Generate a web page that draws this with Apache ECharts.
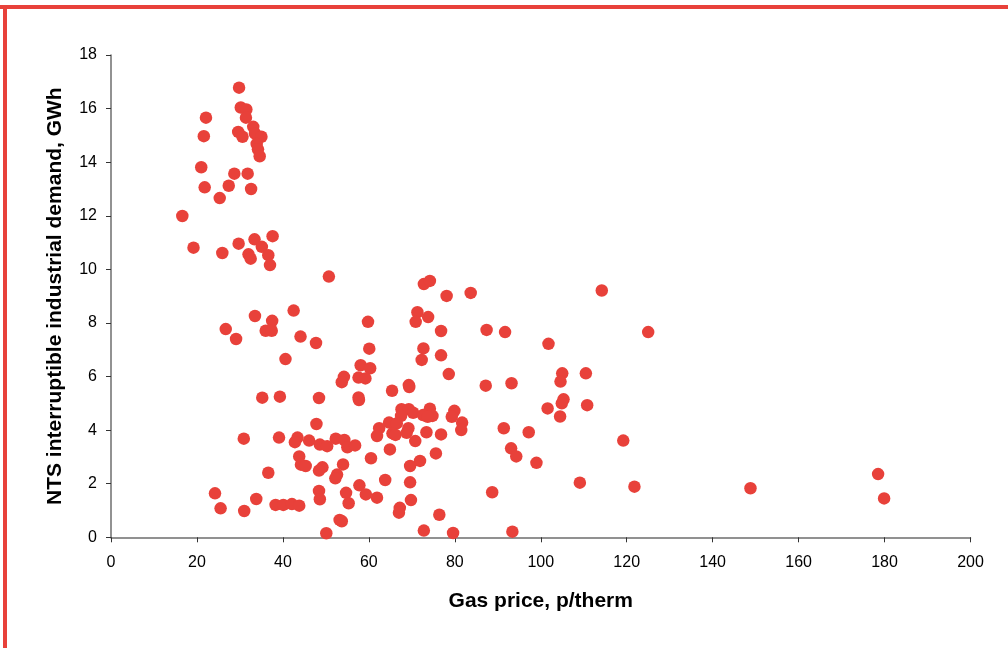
<!DOCTYPE html>
<html>
<head>
<meta charset="utf-8">
<script src="https://cdn.jsdelivr.net/npm/echarts@6/dist/echarts.min.js"></script>
<style>
  html, body { margin: 0; padding: 0; background: #fff; }
  #chart { width: 1008px; height: 648px; }
</style>
</head>
<body>
<div id="chart"></div>
<script>
// Gas price (p/therm) for each observation
const gasPrice = [
  29.8, 30.2, 31.5, 22.1, 31.4, 33.1, 29.6, 30.6, 33.5, 35.0,
  21.6, 33.9, 34.2, 34.6, 21.0, 28.7, 31.8, 21.8, 27.4, 32.6,
  25.3, 16.6, 37.6, 33.4, 29.7, 35.1, 19.2, 25.9, 32.0, 32.5,
  36.6, 37.0, 50.7, 42.5, 33.5, 37.5, 36.0, 37.4, 26.7, 29.1,
  44.1, 47.7, 40.6, 54.2, 53.7, 35.2, 39.3, 48.4, 47.8, 30.9,
  39.1, 43.4, 42.8, 46.1, 48.6, 50.3, 52.3, 54.3, 55.0, 43.8,
  44.2, 45.3, 49.2, 48.4, 54.0, 52.6, 52.2, 36.6, 48.4, 48.6,
  54.7, 55.3, 24.2, 25.5, 31.0, 33.8, 38.3, 40.1, 42.1, 43.8,
  53.2, 53.7, 50.1,
  72.8, 74.2, 78.1, 83.7, 59.8, 71.3, 70.9, 73.8, 76.8, 87.4,
  60.1, 72.7, 72.3, 76.8, 58.1, 60.3, 57.6, 59.2, 78.6, 87.2,
  69.3, 69.4, 65.4, 57.6, 57.7, 67.6, 69.3, 70.3, 67.5, 74.2,
  72.6, 74.8, 73.7, 79.9, 79.3, 81.7, 81.5, 62.4, 61.9, 64.7,
  66.5, 65.5, 66.2, 69.2, 68.8, 73.4, 76.8, 70.8, 56.8, 64.9,
  75.6, 60.5, 71.9, 69.6, 63.8, 69.6, 88.7, 57.8, 59.3, 61.9,
  69.8, 67.2, 67.0, 76.4, 72.8, 79.6,
  91.7, 101.8, 105.0, 104.6, 93.2, 105.3, 104.9, 101.6, 104.5, 91.4,
  97.2, 93.1, 94.3, 99.0, 93.4, 109.1,
  114.2, 125.0, 110.5, 110.8, 119.2, 121.8, 148.8, 178.5, 179.9
];

// NTS interruptible industrial demand (GWh), same order as gasPrice
const demand = [
  16.78, 16.04, 15.97, 15.66, 15.66, 15.32, 15.13, 14.95, 15.07, 14.95,
  14.97, 14.68, 14.48, 14.22, 13.81, 13.57, 13.57, 13.06, 13.12, 13.00,
  12.66, 11.99, 11.24, 11.12, 10.96, 10.84, 10.81, 10.61, 10.56, 10.40,
  10.53, 10.16, 9.73, 8.46, 8.26, 8.08, 7.71, 7.71, 7.77, 7.40,
  7.49, 7.25, 6.65, 5.99, 5.79, 5.21, 5.25, 5.20, 4.23, 3.68,
  3.72, 3.72, 3.55, 3.61, 3.46, 3.40, 3.68, 3.63, 3.36, 3.02,
  2.71, 2.66, 2.61, 2.49, 2.72, 2.34, 2.20, 2.41, 1.73, 1.42,
  1.66, 1.27, 1.64, 1.08, 0.98, 1.43, 1.21, 1.21, 1.24, 1.18,
  0.65, 0.60, 0.15,
  9.45, 9.57, 9.01, 9.12, 8.04, 8.40, 8.04, 8.22, 7.70, 7.74,
  7.04, 7.05, 6.62, 6.79, 6.42, 6.31, 5.96, 5.93, 6.09, 5.66,
  5.68, 5.61, 5.47, 5.22, 5.12, 4.78, 4.78, 4.65, 4.53, 4.80,
  4.56, 4.53, 4.50, 4.72, 4.50, 4.28, 4.00, 4.07, 3.78, 4.28,
  4.25, 3.88, 3.82, 4.07, 3.90, 3.92, 3.84, 3.59, 3.43, 3.28,
  3.13, 2.95, 2.85, 2.66, 2.14, 2.05, 1.68, 1.94, 1.60, 1.48,
  1.39, 1.10, 0.92, 0.84, 0.25, 0.16,
  7.66, 7.22, 6.12, 5.81, 5.75, 5.15, 5.00, 4.81, 4.51, 4.07,
  3.92, 3.32, 3.02, 2.78, 0.21, 2.04,
  9.21, 7.66, 6.12, 4.93, 3.61, 1.89, 1.83, 2.36, 1.45
];

const xTicks = { min: 0, max: 200, interval: 20 };
const yTicks = { min: 0, max: 18, interval: 2 };

const points = gasPrice.map((x, i) => [x, demand[i]]);

const RED = '#E8413A';
const AXIS = '#6e6e6e';
const FONT = '"Liberation Sans", Arial, sans-serif';

const chart = echarts.init(document.getElementById('chart'), null, { renderer: 'canvas' });

chart.setOption({
  backgroundColor: '#ffffff',
  animation: false,
  grid: { left: 111, right: 37.5, top: 55, bottom: 110.7, containLabel: false },
  graphic: [
    { type: 'rect', shape: { x: 0, y: 5, width: 1008, height: 4 }, style: { fill: RED }, z: 10 },
    { type: 'rect', shape: { x: 3, y: 5, width: 4, height: 643 }, style: { fill: RED }, z: 10 }
  ],
  xAxis: {
    type: 'value',
    min: xTicks.min, max: xTicks.max, interval: xTicks.interval,
    name: 'Gas price, p/therm',
    nameLocation: 'middle',
    nameGap: 53,
    nameTextStyle: { fontFamily: FONT, fontSize: 21, fontWeight: 'bold', color: '#000' },
    axisLine: { show: true, onZero: false, lineStyle: { color: AXIS, width: 1.5 } },
    axisTick: { show: true, inside: false, length: 5, lineStyle: { color: '#333', width: 1 } },
    axisLabel: { fontFamily: FONT, fontSize: 16, color: '#000', margin: 17 },
    splitLine: { show: false }
  },
  yAxis: {
    type: 'value',
    min: yTicks.min, max: yTicks.max, interval: yTicks.interval,
    name: 'NTS interruptible industrial demand, GWh',
    nameLocation: 'middle',
    nameGap: 45,
    nameTextStyle: { fontFamily: FONT, fontSize: 21, fontWeight: 'bold', color: '#000' },
    axisLine: { show: true, onZero: false, lineStyle: { color: AXIS, width: 1.5 } },
    axisTick: { show: true, inside: false, length: 5, lineStyle: { color: '#333', width: 1 } },
    axisLabel: { fontFamily: FONT, fontSize: 16, color: '#000', margin: 14 },
    splitLine: { show: false }
  },
  series: [{
    type: 'scatter',
    data: points,
    symbol: 'circle',
    symbolSize: 12.5,
    itemStyle: { color: RED, opacity: 1 }
  }]
});
</script>
</body>
</html>
